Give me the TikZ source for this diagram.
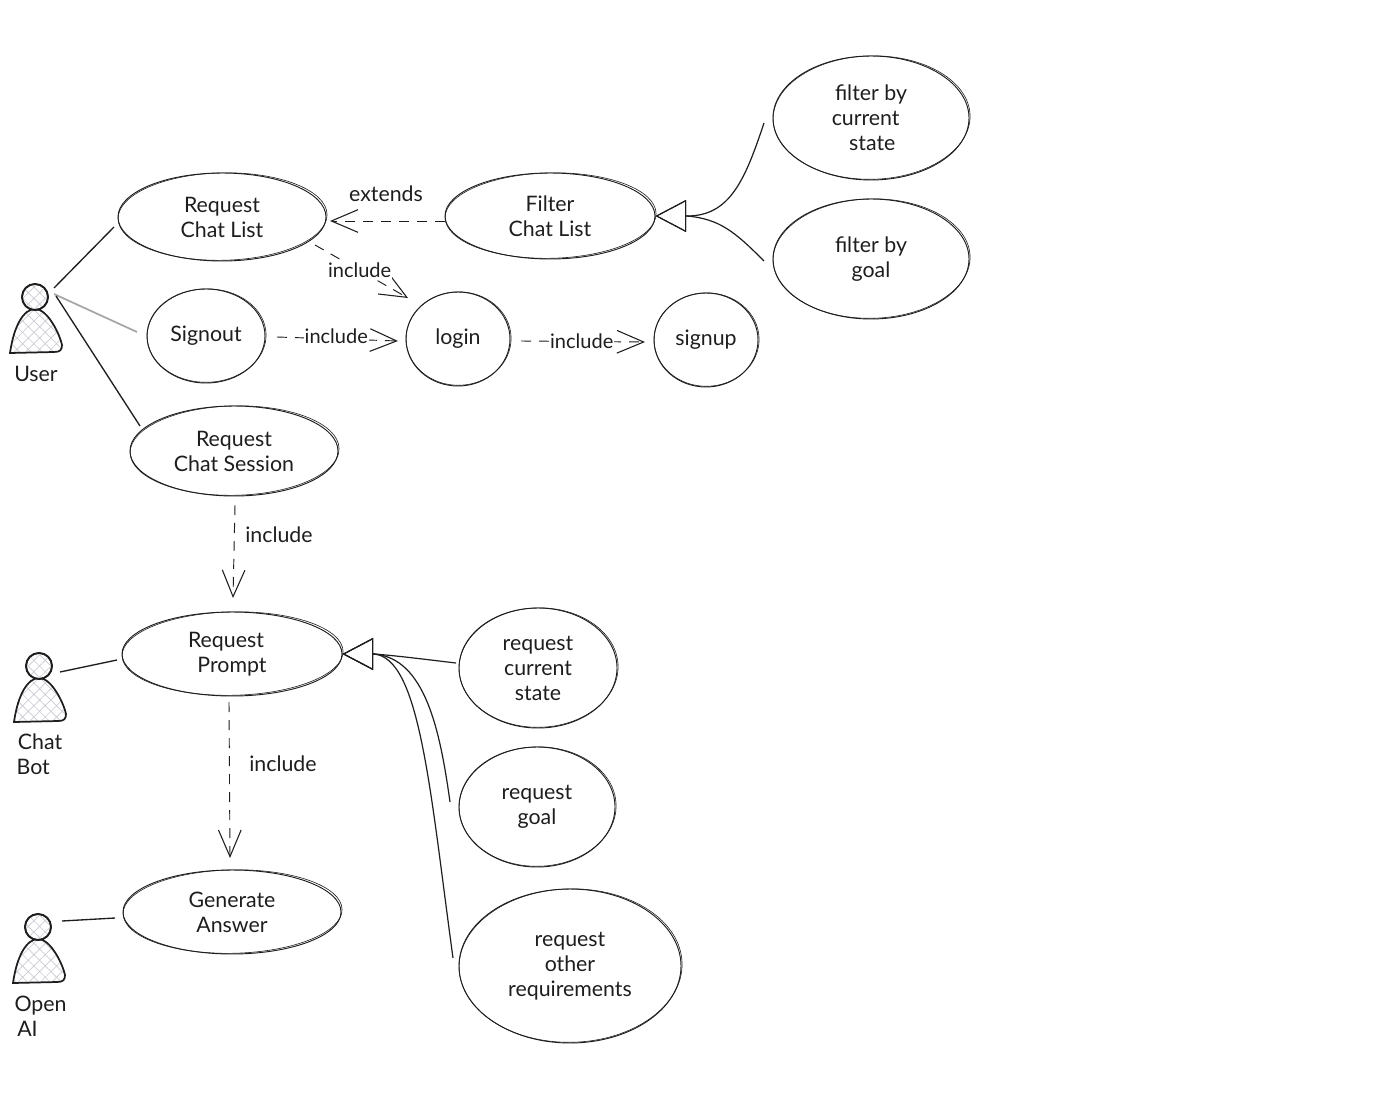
\documentclass[tikz,border=0pt]{standalone}
\usepackage{fontspec}
\setmainfont{Lato}
\usetikzlibrary{shapes.geometric,arrows.meta,patterns.meta}
\definecolor{ink}{HTML}{1E1E1E}
\definecolor{hatchc}{HTML}{C9CCD2}
\tikzset{
  usecase/.style={draw=ink,ellipse,inner sep=0pt,line width=0.7pt,align=center,text=ink},
  txt/.style={text=ink,align=center,inner sep=1pt,font=\fontsize{16}{18.75}\selectfont},
  onedge/.style={txt,fill=white,inner sep=0.5pt,font=\fontsize{15}{18.75}\selectfont},
  assoc/.style={draw=ink,line width=1pt},
  dep/.style={draw=ink,line width=0.7pt,dash pattern=on 7.5pt off 6pt,
     -{Straight Barb[length=20pt,width=17pt,line width=0.8pt]}},
  gen/.style={draw=ink,line width=0.9pt,-{Triangle[open,length=23pt,width=24pt,line width=0.8pt]}},
  stroke2/.style={draw=ink,line width=0.45pt},
  actorshape/.style={draw=ink,line width=1.3pt,pattern={Hatch[angle=45,distance=6pt,line width=0.5pt]},pattern color=hatchc}
}
% name, cx, cy, rx, ry, text
\newcommand{\uc}[6]{%
  \node[usecase,txt,draw=ink,minimum width=#4*1.5pt,minimum height=#5*1.5pt,line width=0.7pt] (#1) at (#2,#3) {#6};
  \draw[stroke2,rotate around={1.2:(#2,#3)}] (#2+0.6,#3-0.4) ellipse ({#4+0.5} and {#5-0.3});
}
% name, head cx, head cy
\newcommand{\actorfig}[3]{%
  \begin{scope}[shift={(#2,#3)}]
    \draw[actorshape] (-25,56) .. controls (-21,28) and (-11,12) .. (0,12)
       .. controls (13,12) and (25,38) .. (27,48)
       .. controls (27,53) and (25,55) .. (19,55) -- cycle;
    \node[circle,actorshape,fill=white,minimum size=19.5pt,inner sep=0pt] (#1) at (0,0) {};
    \node[circle,actorshape,minimum size=19.5pt,inner sep=0pt] at (#1.center) {};
  \end{scope}
}
\newcommand{\lft}[1]{\hspace*{#1pt}}
\begin{document}
\begin{tikzpicture}[x=0.75pt,y=-0.75pt]
\useasboundingbox[fill=white] (0,0) rectangle (1384,1113);

% use cases
\uc{reqlist}{222}{217}{104}{44}{Request\\Chat List}
\uc{filterlist}{550}{216}{105}{43}{Filter\\Chat List}
\uc{fcs}{871}{118}{98}{62}{filter by\\\lft{-8}current\\\lft{2}state}
\uc{fg}{871}{259}{98}{60}{filter by\\goal}
\uc{signout}{206}{336}{59}{47}{Signout}
\uc{login}{458}{339}{52}{47}{login}
\uc{signup}{706}{340}{52}{47}{signup}
\uc{chatsess}{234}{451}{104}{45}{Request\\Chat Session}
\uc{prompt}{232}{654}{110}{42}{Request\lft{9}\\Prompt}
\uc{genans}{232}{912}{109}{42}{Generate\\Answer}
\uc{rcs}{538}{668}{79}{60}{request\\current\\state}
\uc{rg}{537}{807}{78}{60}{request\\goal}
\uc{ro}{570}{966}{111}{77}{request\\other\\requirements}

% actors
\actorfig{userhead}{35}{297}
\actorfig{bothead}{39}{666}
\actorfig{aihead}{38}{927}
\node[txt] (userlab) at (36,374) {User};
\node[txt,align=left,anchor=west] (botlab) at (15,754) {\lft{1}Chat\\Bot};
\node[txt,align=left,anchor=west] (ailab) at (13,1016) {Open\\\lft{2}AI};

% associations
\draw[assoc] ([shift={(19,-9)}]userhead.center) -- ([shift={(-108,10)}]reqlist.center);
\draw[draw=gray!70,line width=1.3pt] ([shift={(19,-3)}]userhead.center) -- ([shift={(-69,-4)}]signout.center);
\draw[assoc] ([shift={(21,-1)}]userhead.center) -- ([shift={(-94,-25)}]chatsess.center);
\draw[assoc] ([shift={(21,6)}]bothead.center) -- ([shift={(-115,6)}]prompt.center);
\draw[assoc] ([shift={(24,-6)}]aihead.center) -- ([shift={(-117,6)}]genans.center);

% dependencies
\draw[dep] ([shift={(-105,5)}]filterlist.center) -- ([shift={(108,4)}]reqlist.center);
\node[txt] (extlab) at (386,194) {extends};
\draw[dep] ([shift={(93,28)}]reqlist.center) -- node[onedge,pos=0.48] (inc1) {include} ([shift={(-50,-41)}]login.center);
\draw[dep] ([shift={(71,1)}]signout.center) -- node[onedge,pos=0.49,yshift=1.8pt] (inc2) {include} ([shift={(-60,2)}]login.center);
\draw[dep] ([shift={(63,2)}]login.center) -- node[onedge,pos=0.49] (inc3) {include} ([shift={(-61,2)}]signup.center);
\draw[dep] ([shift={(1,54)}]chatsess.center) -- ([shift={(1,-56)}]prompt.center);
\node[txt] (inc4) at (279,535) {include};
\draw[dep] ([shift={(-3,48)}]prompt.center) -- ([shift={(-2,-54)}]genans.center);
\node[txt] (inc5) at (283,764) {include};

% generalisations
\draw[gen] ([shift={(-107,5)}]fcs.center) .. controls (745,180) and (730,216) .. (687,216) -- (filterlist.east);
\draw[gen] ([shift={(-107,2)}]fg.center) .. controls (735,232) and (720,219) .. (687,216) -- (filterlist.east);
\draw[gen] ([shift={(-82,-5)}]rcs.center) .. controls (430,660) and (400,656) .. (374,654) -- (prompt.east);
\draw[gen] ([shift={(-87,-5)}]rg.center) .. controls (440,730) and (425,658) .. (374,654) -- (prompt.east);
\draw[gen] ([shift={(-117,-8)}]ro.center) .. controls (430,790) and (420,658) .. (374,654) -- (prompt.east);
\end{tikzpicture}
\end{document}
